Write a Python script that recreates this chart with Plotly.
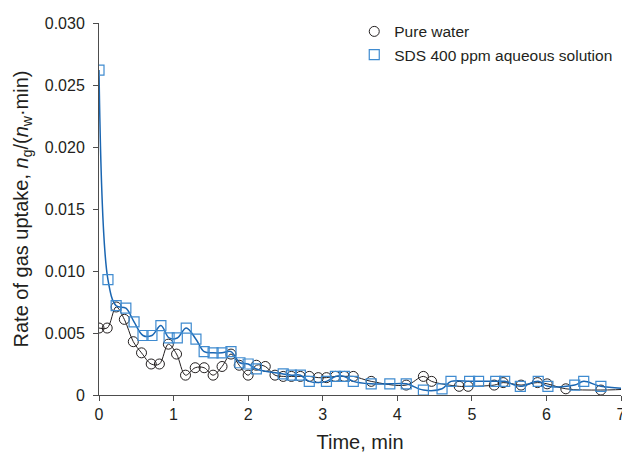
import plotly.graph_objects as go

# Pure water series
water_t = [0, 0.11, 0.23, 0.34, 0.46, 0.57, 0.70, 0.81, 0.93, 1.04,
           1.16, 1.29, 1.41, 1.53, 1.65, 1.77, 1.88, 2.00, 2.11, 2.23,
           2.36, 2.47, 2.58, 2.70, 2.82, 2.94, 3.05, 3.17, 3.29, 3.41,
           3.65, 4.12, 4.35, 4.46, 4.83, 4.95, 5.30, 5.42, 5.66, 5.88,
           6.01, 6.26, 6.73, 7.20]
water_v = [0.0054, 0.0054, 0.0071, 0.0061, 0.0043, 0.0034, 0.0025, 0.0025, 0.0041, 0.0033,
           0.0016, 0.0022, 0.0022, 0.0016, 0.0023, 0.0033, 0.0024, 0.0016, 0.0024, 0.0023,
           0.0016, 0.0015, 0.0015, 0.0015, 0.0015, 0.0014, 0.0014, 0.0015, 0.0015, 0.0015,
           0.0011, 0.0008, 0.0015, 0.0011, 0.0007, 0.0007, 0.0008, 0.0010, 0.0008, 0.0010,
           0.0009, 0.0005, 0.0004, 0.0005]

# SDS 400 ppm series
sds_t = [0, 0.12, 0.23, 0.36, 0.47, 0.59, 0.71, 0.83, 0.94, 1.05,
         1.17, 1.30, 1.41, 1.53, 1.65, 1.77, 1.89, 2.00, 2.11, 2.47,
         2.58, 2.70, 2.82, 3.05, 3.17, 3.29, 3.41, 3.65, 3.90, 4.12,
         4.35, 4.60, 4.72, 4.97, 5.09, 5.32, 5.44, 5.65, 5.89, 6.02,
         6.38, 6.50, 6.73, 7.20]
sds_v = [0.0262, 0.0093, 0.0072, 0.0070, 0.0059, 0.0048, 0.0048, 0.0056, 0.0046, 0.0046,
         0.0054, 0.0045, 0.0035, 0.0034, 0.0034, 0.0035, 0.0026, 0.0025, 0.0021, 0.0017,
         0.0016, 0.0016, 0.0011, 0.0011, 0.0015, 0.0015, 0.0011, 0.0009, 0.0009, 0.0009,
         0.0004, 0.0005, 0.0011, 0.0011, 0.0011, 0.0011, 0.0011, 0.0007, 0.0011, 0.0007,
         0.0008, 0.0011, 0.0007, 0.0005]

x_ticks = [0, 1, 2, 3, 4, 5, 6, 7]
y_tickvals = [0, 0.005, 0.010, 0.015, 0.020, 0.025, 0.030]
y_ticktext = ["0", "0.005", "0.010", "0.015", "0.020", "0.025", "0.030"]

names = ["Pure water", "SDS 400 ppm aqueous solution"]

BLACK = "#231f20"
BLUE_LINE = "#1a66b2"
BLUE_MARK = "#3f8bd0"
AXIS = "#4d4d4d"
FONT = "Liberation Sans, Arial, sans-serif"

fig = go.Figure()
fig.add_trace(go.Scatter(
    x=water_t, y=water_v, mode="lines+markers", showlegend=False,
    line=dict(color=BLACK, width=1, shape="spline", smoothing=1),
    marker=dict(symbol="circle-open", size=10, color=BLACK, line=dict(width=1)),
))
fig.add_trace(go.Scatter(
    x=sds_t, y=sds_v, mode="lines+markers", showlegend=False,
    line=dict(color=BLUE_LINE, width=1.5, shape="spline", smoothing=1),
    marker=dict(symbol="square-open", size=10, color=BLUE_MARK, line=dict(width=1.2)),
))
# legend entries (marker only, as in the reference)
fig.add_trace(go.Scatter(x=[None], y=[None], mode="markers", name=names[0],
                         marker=dict(symbol="circle-open", size=10, color=BLACK, line=dict(width=1))))
fig.add_trace(go.Scatter(x=[None], y=[None], mode="markers", name=names[1],
                         marker=dict(symbol="square-open", size=10, color=BLUE_MARK, line=dict(width=1.2))))

# page body has an 8px default margin, so the figure is 8px smaller
fig.update_layout(
    width=622, height=449,
    margin=dict(l=91, r=4, t=15, b=62),
    paper_bgcolor="white", plot_bgcolor="white",
    font=dict(family=FONT, color=BLACK, size=16),
    legend=dict(x=0.489, y=1.022, xanchor="left", yanchor="top",
                bgcolor="rgba(0,0,0,0)", font=dict(size=15.5), itemwidth=30,
                tracegroupgap=0),
)
fig.update_xaxes(
    range=[0, 7], tickvals=x_ticks, showgrid=False, zeroline=False,
    showline=True, linecolor=AXIS, linewidth=1,
    ticks="outside", ticklen=5, tickcolor=AXIS,
    tickfont=dict(size=16), ticklabeloverflow="allow",
    title=dict(text="Time, min", font=dict(size=20), standoff=12),
)
fig.update_yaxes(
    range=[0, 0.030], tickvals=y_tickvals, ticktext=y_ticktext,
    showgrid=False, zeroline=False,
    showline=True, linecolor=AXIS, linewidth=1,
    ticks="outside", ticklen=5, tickcolor=AXIS,
    tickfont=dict(size=16), ticklabelstandoff=5,
    title=dict(text="Rate of gas uptake, <i>n</i><sub>g</sub>/(<i>n</i><sub>w</sub>·min)",
               font=dict(size=20), standoff=10),
)

fig.write_html("out.html")
